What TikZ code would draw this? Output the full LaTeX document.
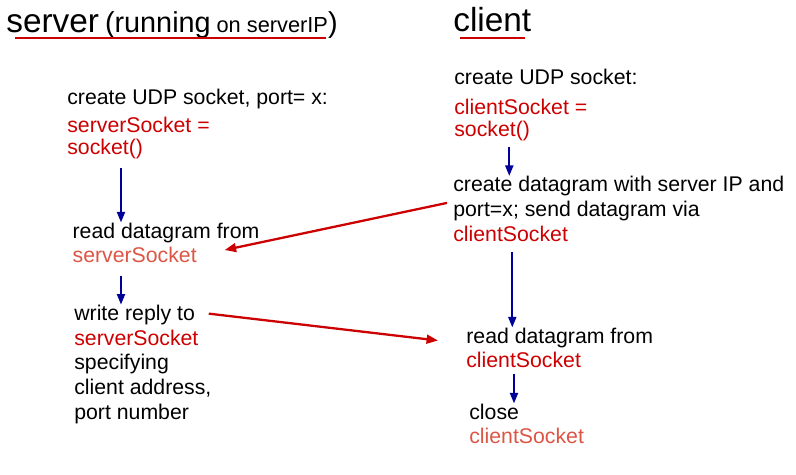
\documentclass[tikz,border=0pt]{standalone}
\usepackage{fontspec}
\setmainfont{Liberation Sans}
\usetikzlibrary{arrows.meta}
\definecolor{codered}{RGB}{204,0,0}
\definecolor{sockred}{RGB}{221,85,68}
\definecolor{flowblue}{RGB}{0,0,153}
\tikzset{
 blk/.style={anchor=base west,inner sep=0pt,align=left,font=\fontsize{12.1}{14.1}\selectfont},
 flow/.style={draw=flowblue,line width=1.2pt,-{Triangle[length=6pt,width=4.5pt]}},
 msg/.style={draw=codered,line width=1.3pt,-{Triangle[length=6.5pt,width=5pt]}},
 uline/.style={draw=codered,line width=1.3pt}
}
\begin{document}
\begin{tikzpicture}[x=0.02cm,y=-0.02cm]
\useasboundingbox (0,0) rectangle (796,475);
%titles
\node[blk] (stitle) at (6,33) {{\fontsize{19}{22}\selectfont server} {\fontsize{16.4}{20}\selectfont (running} {\fontsize{12.4}{15}\selectfont on serverIP}{\fontsize{16.4}{20}\selectfont )}};
\node[blk] (ctitle) at (453,32) {\fontsize{19}{22}\selectfont client};
\draw[uline] ([shift={(9,5)}]stitle.base west) -- ([shift={(-12,5)}]stitle.base east);
\draw[uline] ([shift={(7,6)}]ctitle.base west) -- ([shift={(-7,6)}]ctitle.base east);

%server side (nodes sit on their last line)
\node[blk,font=\fontsize{12.1}{12.5}\selectfont] (screate) at (67,154.5) {create UDP socket, port= x:\\[3.4pt]
 \textcolor{codered}{serverSocket =}\\ \textcolor{codered}{socket()}};
\node[blk] (sread) at (72.3,263) {read datagram from\\ \textcolor{sockred}{serverSocket}};
\node[blk] (swrite) at (74,419.5) {write reply to\\ \textcolor{codered}{serverSocket}\\ specifying\\ client address,\\ port number};

%client side
\node[blk,font=\fontsize{12.1}{12.3}\selectfont] (ccreate) at (454,136.3) {create UDP socket:\\[4.7pt]
 \textcolor{codered}{clientSocket =}\\ \textcolor{codered}{socket()}};
\node[blk] (csend) at (453,241.3) {create datagram with server IP and\\ port=x; send datagram via\\ \textcolor{codered}{clientSocket}};
\node[blk] (cread) at (466,368) {read datagram from\\ \textcolor{codered}{clientSocket}};
\node[blk] (cclose) at (469,444) {close\\ \textcolor{sockred}{clientSocket}};

%steps
\draw[flow] ([shift={(54,9)}]screate.south west) coordinate (s1) -- (s1 |- sread.north);
\draw[flow] ([shift={(48.7,12)}]sread.south west) coordinate (s2) -- (s2 |- swrite.north);
\draw[flow] ([shift={(55.3,5.5)}]ccreate.south west) coordinate (c1) -- (c1 |- csend.north);
\draw[flow] ([shift={(59.3,10.5)}]csend.south west) coordinate (c2) -- (c2 |- cread.north);
\draw[flow] ([shift={(48,5)}]cread.south west) coordinate (c3) -- (c3 |- cclose.north);

%datagrams
\draw[msg] ([shift={(-6,-6)}]csend.west) -- ([shift={(-35,7)}]sread.east);
\draw[msg] ([shift={(-3,9)}]swrite.north east) -- ([shift={(-28,-7.5)}]cread.west);
\end{tikzpicture}
\end{document}
